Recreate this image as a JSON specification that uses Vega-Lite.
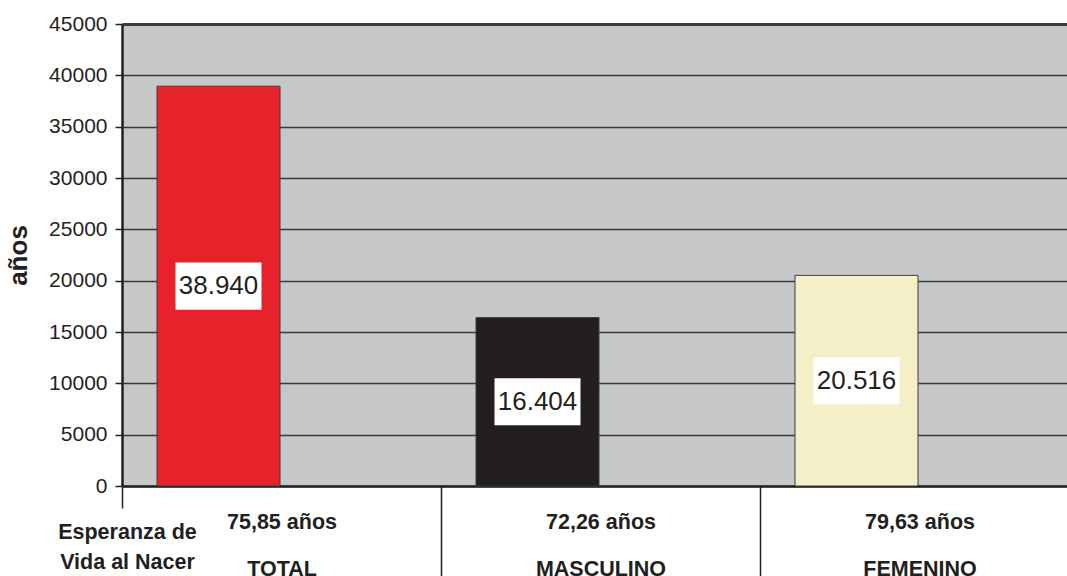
{
  "$schema": "https://vega.github.io/schema/vega-lite/v6.json",
  "width": 945,
  "height": 462,
  "autosize": {"type": "none"},
  "padding": {"left": 122, "top": 24, "right": 0, "bottom": 90},
  "background": "white",
  "config": {
    "font": "Liberation Sans",
    "view": {"fill": "#c6c7c9", "stroke": null}
  },
  "data": {
    "values": [
      {"cat": "TOTAL", "value": 38940, "label": "38.940", "eje": "75,85 años|TOTAL"},
      {"cat": "MASCULINO", "value": 16404, "label": "16.404", "eje": "72,26 años|MASCULINO"},
      {"cat": "FEMENINO", "value": 20516, "label": "20.516", "eje": "79,63 años|FEMENINO"}
    ]
  },
  "layer": [
    {
      "mark": {"type": "bar", "stroke": "#3d3d3d", "strokeWidth": 1},
      "encoding": {
        "x": {
          "field": "cat", "type": "nominal", "sort": null,
          "scale": {"type": "band", "range": [0, 957], "paddingInner": 0.6144, "paddingOuter": 0.3072, "align": 0.1786},
          "axis": null
        },
        "y": {
          "field": "value", "type": "quantitative",
          "scale": {"domain": [0, 45000], "nice": false},
          "axis": {
            "values": [0, 5000, 10000, 15000, 20000, 25000, 30000, 35000, 40000, 45000],
            "format": "d",
            "grid": true, "gridColor": "#3a3a3a",
            "gridWidth": {"condition": {"test": "datum.value === 45000", "value": 3}, "value": 1.5},
            "domainColor": "#231f20", "domainWidth": 2.5,
            "tickColor": "#231f20", "tickSize": 7, "tickWidth": 1.5,
            "labelFontSize": 21, "labelColor": "#231f20", "labelPadding": 8,
            "title": "años", "titleFontSize": 26, "titleFontWeight": "bold", "titleColor": "#231f20",
            "titleX": -104, "titleY": 231, "titleAngle": -90, "titleAlign": "center", "titleBaseline": "middle"
          }
        },
        "color": {
          "field": "cat", "type": "nominal",
          "scale": {"domain": ["TOTAL", "MASCULINO", "FEMENINO"], "range": ["#e8222a", "#231f20", "#f5efc8"]},
          "legend": null
        }
      }
    },
    {
      "encoding": {
        "x": {
          "field": "cat", "type": "nominal", "sort": null,
          "scale": {"type": "band", "range": [0, 957], "paddingInner": 0.6144, "paddingOuter": 0.3072, "align": 0.1786},
          "axis": null
        },
        "y": {
          "field": "value", "type": "quantitative",
          "scale": {"domain": [0, 90000], "nice": false},
          "axis": null
        }
      },
      "layer": [
        {
          "mark": {"type": "point", "shape": "M-1,-0.547L1,-0.547L1,0.547L-1,0.547Z", "size": 7396, "filled": true, "fill": "white", "opacity": 1, "strokeWidth": 0}
        },
        {
          "mark": {"type": "text", "fontSize": 26, "fill": "#231f20", "baseline": "middle", "align": "center"},
          "encoding": {"text": {"field": "label"}}
        }
      ]
    },
    {
      "mark": {"type": "point", "opacity": 0},
      "encoding": {
        "x": {
          "field": "eje", "type": "nominal", "sort": null,
          "scale": {"type": "band", "range": [0, 957], "paddingInner": 0, "paddingOuter": 0},
          "axis": {
            "orient": "bottom",
            "tickBand": "extent",
            "labelExpr": "split(datum.label, '|')",
            "labelFontSize": 21.5, "labelFontWeight": "bold", "labelColor": "#231f20",
            "labelAngle": 0, "labelAlign": "center", "labelBaseline": "alphabetic",
            "labelLineHeight": 47.5, "labelPadding": -48, "labelOverlap": false,
            "tickSize": 90, "tickColor": "#231f20", "tickWidth": 1.5,
            "tickDash": {"condition": {"test": "datum.extra || datum.index === 1", "value": [22, 400]}, "value": []},
            "domainColor": "#231f20", "domainWidth": 2.5,
            "grid": false,
            "title": ["Esperanza de", "Vida al Nacer"],
            "titleFontSize": 21.5, "titleFontWeight": "bold", "titleColor": "#231f20",
            "titleX": 5, "titleY": 52, "titleAlign": "center", "titleBaseline": "alphabetic", "titleLineHeight": 30
          }
        }
      }
    }
  ],
  "resolve": {
    "scale": {"x": "independent", "y": "independent"},
    "axis": {"x": "independent", "y": "independent"}
  }
}
